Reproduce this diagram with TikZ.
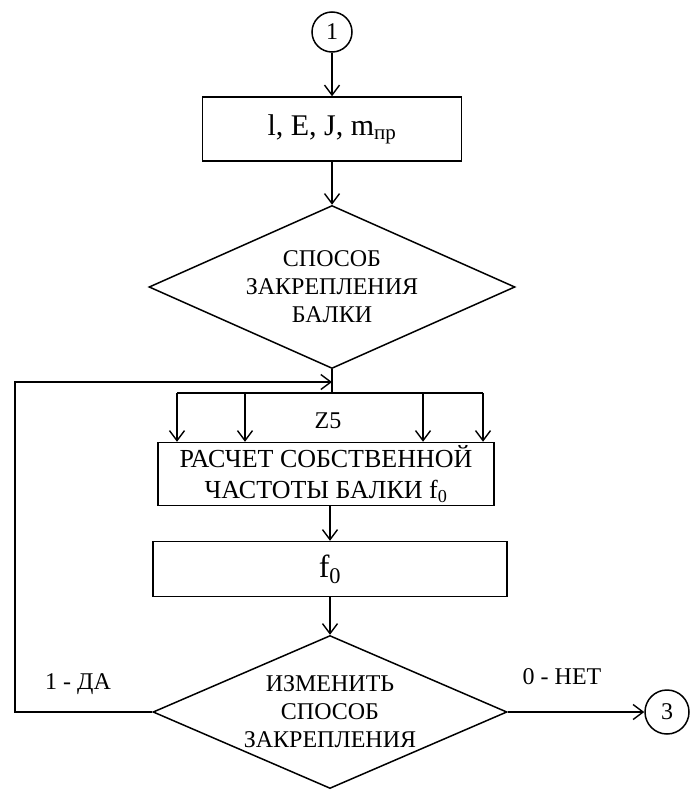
\documentclass[tikz,border=0pt]{standalone}
\usepackage{fontspec}
\setmainfont{Liberation Serif}
\usetikzlibrary{shapes.geometric,arrows.meta}
\begin{document}
\begin{tikzpicture}[x=1pt,y=-1pt,line width=1.5pt,
  arr/.style={-{Straight Barb[length=10pt,width=15pt,line width=1.4pt]}},
  blk/.style={draw,rectangle,inner sep=0pt,align=center},
  dec/.style={draw,diamond,inner sep=0pt,align=center},
  conn/.style={draw,circle,inner sep=0pt},
  every node/.style={font=\fontsize{24}{28}\selectfont}]
\useasboundingbox (0,0) rectangle (693,790);
\node[conn,minimum size=40pt] (c1) at (332,32) {1};
\node[blk,minimum width=259pt,minimum height=64pt,font=\fontsize{30}{34}\selectfont] (inp) at (332,129) {l, E, J, m\textsubscript{пр}};
\node[dec,minimum width=366pt,minimum height=163pt,aspect=2.25] (d1) at (332,287) {СПОСОБ\\ЗАКРЕПЛЕНИЯ\\БАЛКИ};
\coordinate (m) at (332,382);
\coordinate (bus) at (332,393);
\node[blk,minimum width=336pt,minimum height=63pt,font=\fontsize{26}{31}\selectfont] (calc) at (326,474) {РАСЧЕТ СОБСТВЕННОЙ\\ЧАСТОТЫ БАЛКИ f\textsubscript{0}};
\node at (328,421) {Z5};
\node[blk,minimum width=354pt,minimum height=55pt,font=\fontsize{32}{36}\selectfont] (out) at (330,569) {f\textsubscript{0}};
\node[dec,minimum width=354pt,minimum height=153pt,aspect=2.3] (d2) at (330,712) {ИЗМЕНИТЬ\\СПОСОБ\\ЗАКРЕПЛЕНИЯ};
\node[conn,minimum size=44pt] (c3) at (667,712) {3};
\coordinate (lp) at (15,382);
\node at (78,684) {1 - ДА};
\node at (562,677) {0 - НЕТ};
\draw[arr] (c1) -- (inp);
\draw[arr] (inp) -- (d1);
\draw (d1.south) -- (bus);
\draw[arr] (d2.west) -| (lp) -- (m);
\foreach \x [count=\i] in {177,245,423,483} {
  \coordinate (b\i) at (\x,393);
  \draw[arr] (b\i) -- (b\i |- calc.north);
}
\draw (b1) -- (b4);
\draw[arr] (out.north |- calc.south) -- (out);
\draw[arr] (out) -- (d2);
\draw[arr] (d2.east) -- (c3);
\end{tikzpicture}
\end{document}
